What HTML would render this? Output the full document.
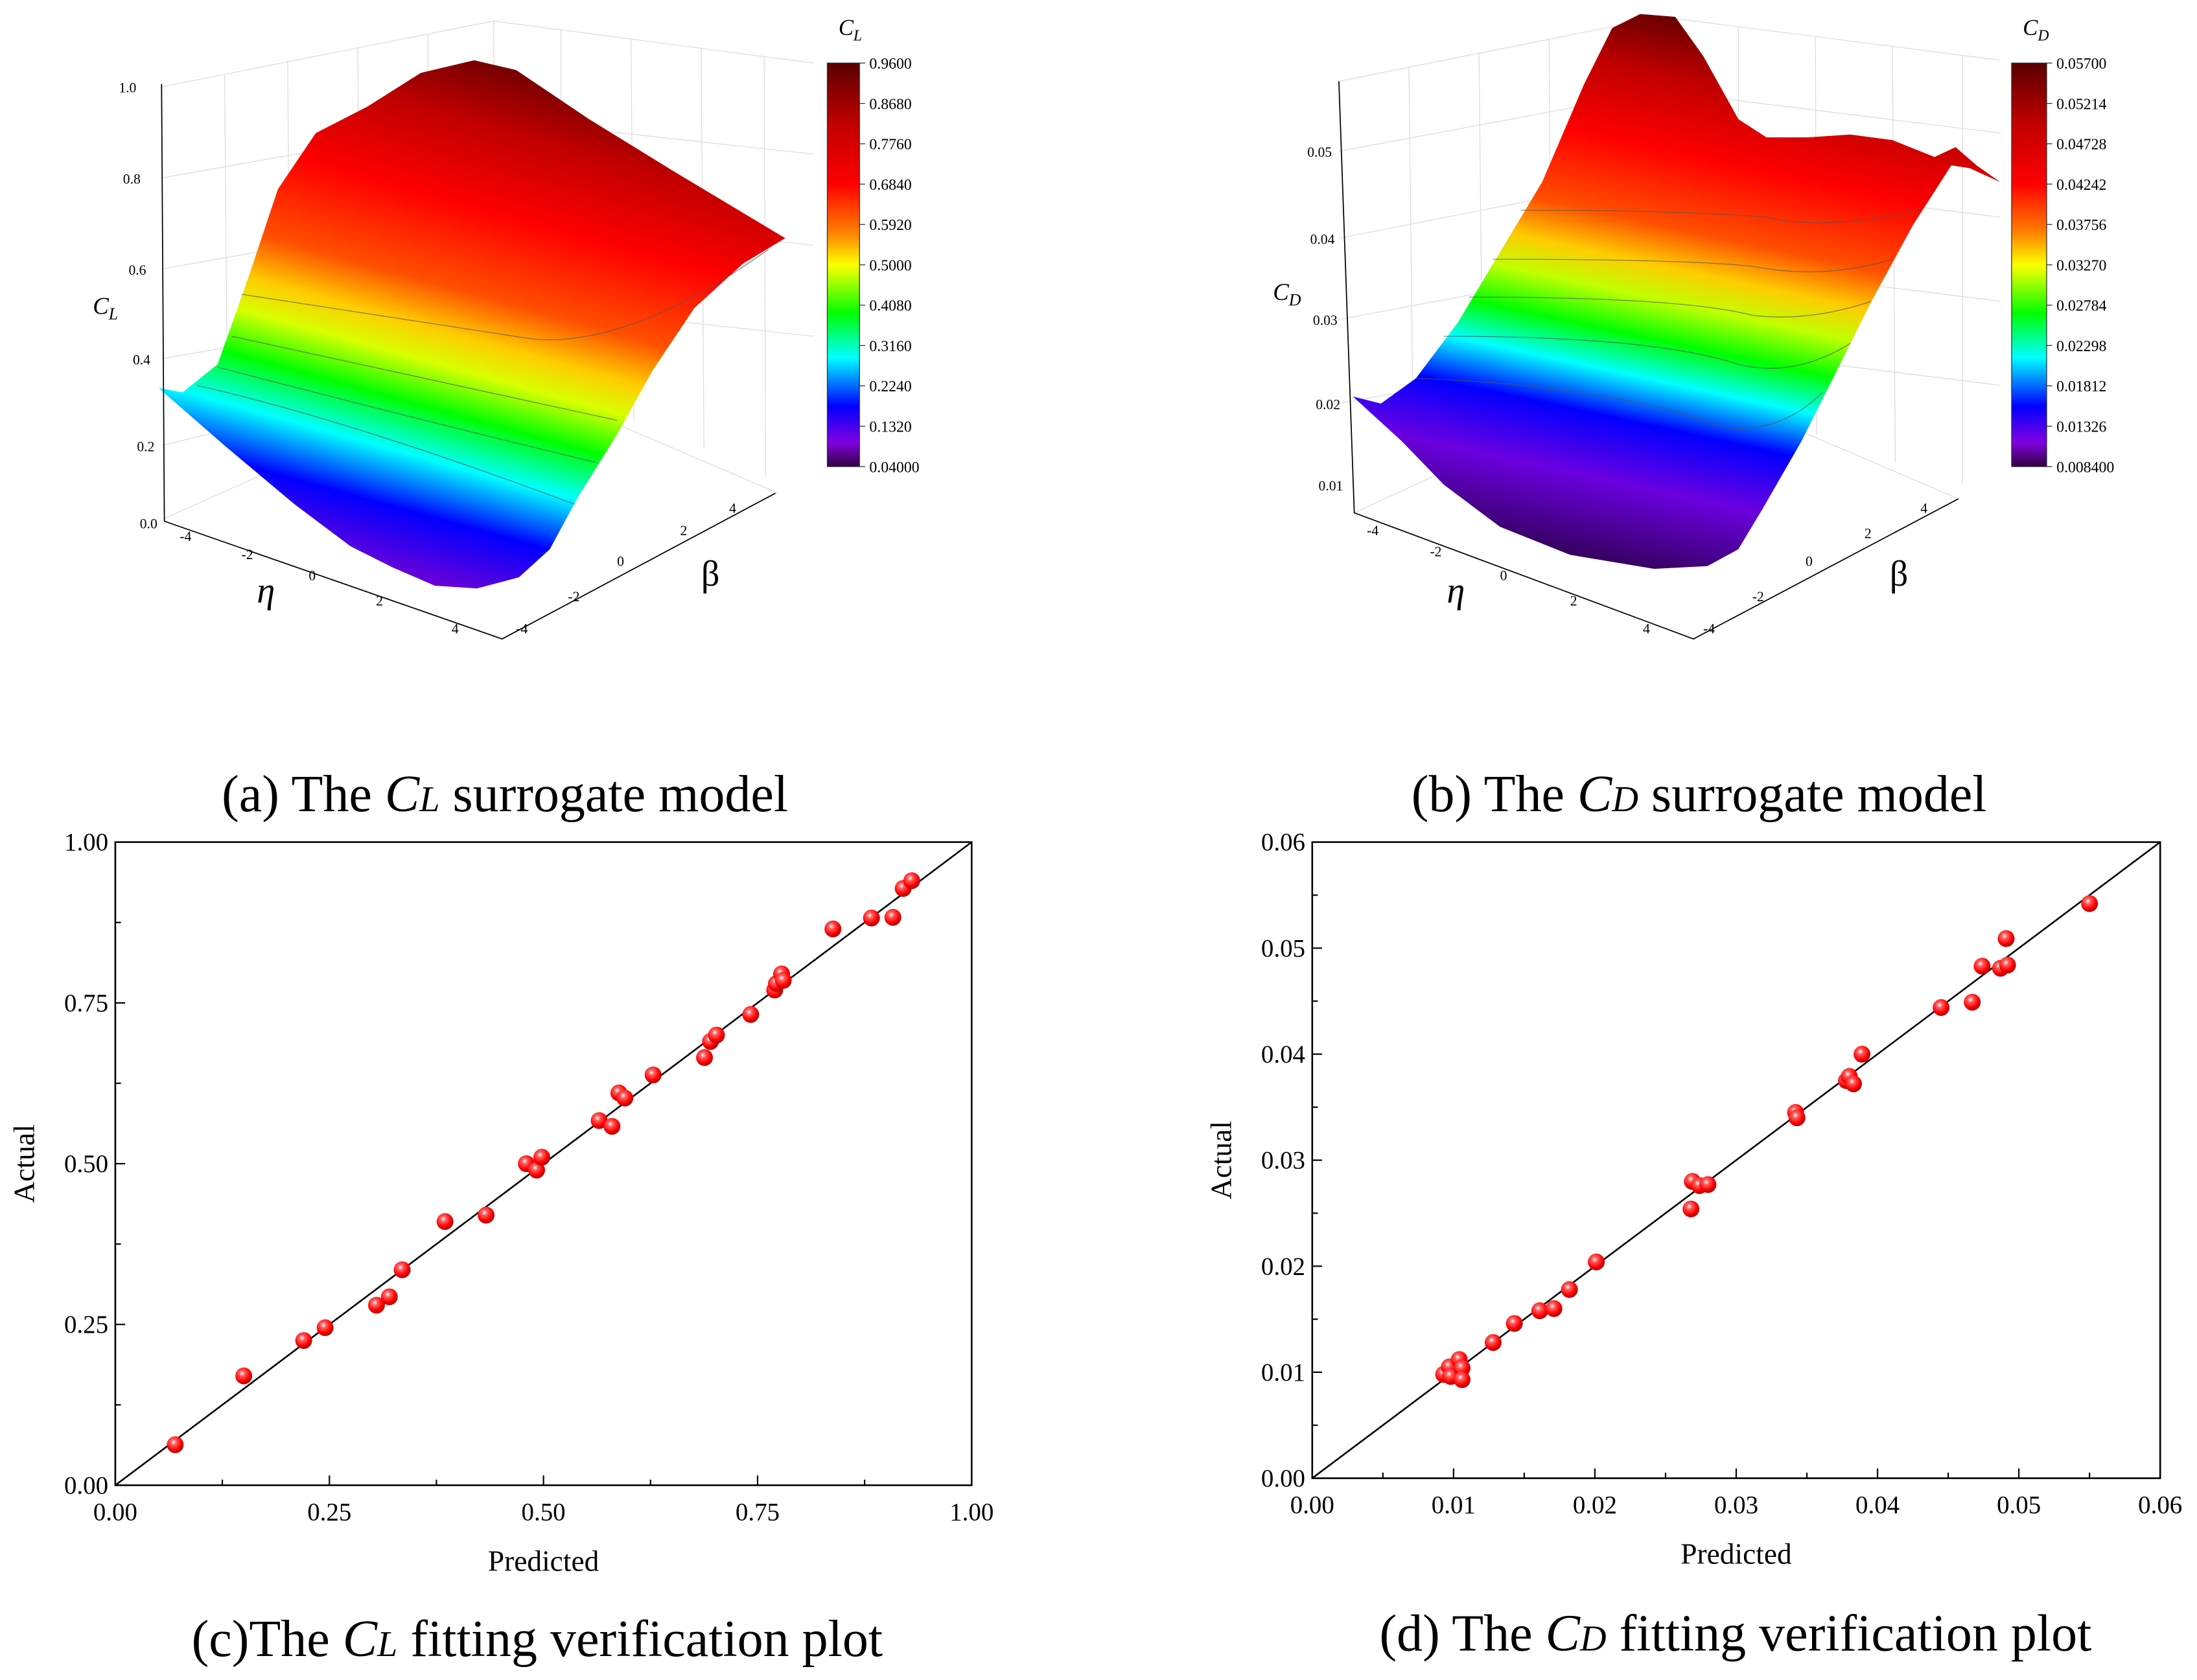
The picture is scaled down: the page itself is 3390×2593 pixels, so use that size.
<!DOCTYPE html>
<html><head><meta charset="utf-8">
<style>
html,body{margin:0;padding:0;background:#fff;}
svg{display:block;font-family:"Liberation Serif",serif;}
</style></head>
<body>
<svg id="root" width="3390" height="2593" viewBox="0 0 1567 1199" xmlns="http://www.w3.org/2000/svg">
<defs>
  <linearGradient id="cbar" x1="0" y1="0" x2="0" y2="1">
    <stop offset="0" stop-color="#5a0000"/><stop offset="0.15" stop-color="#c00000"/>
    <stop offset="0.3" stop-color="#ff0000"/><stop offset="0.42" stop-color="#ff8000"/>
    <stop offset="0.5" stop-color="#ffff00"/><stop offset="0.62" stop-color="#00ff00"/>
    <stop offset="0.73" stop-color="#00ffff"/><stop offset="0.85" stop-color="#0000ff"/>
    <stop offset="0.94" stop-color="#8000e0"/><stop offset="1" stop-color="#300040"/>
  </linearGradient>
  <linearGradient id="surfA" gradientUnits="userSpaceOnUse" x1="390" y1="40" x2="285" y2="420">
    <stop offset="0" stop-color="#5a0000"/><stop offset="0.15" stop-color="#c00000"/>
    <stop offset="0.3" stop-color="#ff0000"/><stop offset="0.45" stop-color="#ff5000"/>
    <stop offset="0.53" stop-color="#ffcc00"/><stop offset="0.59" stop-color="#d8ff00"/>
    <stop offset="0.67" stop-color="#00ff00"/><stop offset="0.76" stop-color="#00ffff"/>
    <stop offset="0.86" stop-color="#0000ff"/><stop offset="1" stop-color="#8000d0"/>
  </linearGradient>
  <linearGradient id="surfB" gradientUnits="userSpaceOnUse" x1="1215" y1="10" x2="1130" y2="405">
    <stop offset="0" stop-color="#5a0000"/><stop offset="0.12" stop-color="#c00000"/>
    <stop offset="0.25" stop-color="#ff0000"/><stop offset="0.38" stop-color="#ff5000"/>
    <stop offset="0.45" stop-color="#ffcc00"/><stop offset="0.51" stop-color="#c0ff00"/>
    <stop offset="0.58" stop-color="#00ff00"/><stop offset="0.65" stop-color="#00ffff"/>
    <stop offset="0.73" stop-color="#0000ff"/><stop offset="0.84" stop-color="#6a00e0"/>
    <stop offset="1" stop-color="#300050"/>
  </linearGradient>
  <radialGradient id="ball" cx="0.4" cy="0.35" r="0.65">
    <stop offset="0" stop-color="#ffffff"/><stop offset="0.25" stop-color="#ff6060"/>
    <stop offset="0.7" stop-color="#ff0000"/><stop offset="1" stop-color="#b00000"/>
  </radialGradient>
</defs>

<!-- Panel A -->
<g stroke="#ddd" stroke-width="0.6" fill="none">
  <path d="M115,62 L352,15 L580,45 M352,15 L352,265 M115,127 L352,85 M115,192 L352,150 M115,256 L352,215 M115,318 L352,260 M352,85 L580,110 M352,150 L580,175 M352,215 L580,240"/>
  <path d="M160,53 L162,300 M205,44 L207,320 M255,34 L257,340 M305,24 L306,260 M400,21 L400,290 M450,28 L452,300 M500,34 L502,320 M545,40 L546,340 M117,370 L352,265 L555,352"/>
</g>
<path fill="url(#surfA)" d="M113,277 L130,280 L155,260 L178,195 L198,135 L225,95 L262,76 L300,52 L338,43 L368,50 L420,85 L480,122 L530,152 L560,170 L530,188 L495,220 L465,265 L440,310 L412,355 L392,392 L370,412 L340,420 L310,418 L280,405 L250,390 L210,360 L160,318 Z"/>
<g stroke="#555" stroke-width="0.6" fill="none" opacity="0.7">
  <path d="M172,210 Q300,230 380,242 Q450,248 548,178"/>
  <path d="M165,240 Q300,270 440,300"/>
  <path d="M155,262 Q300,300 425,330"/>
  <path d="M140,275 Q250,300 410,360"/>
</g>
<g stroke="#000" stroke-width="0.8" fill="none">
  <path d="M115,60 L117,372 L358,456 L553,352"/>
</g>
<g font-size="10" fill="#000">
  <text x="97" y="66" text-anchor="end">1.0</text><text x="100" y="131" text-anchor="end">0.8</text>
  <text x="104" y="196" text-anchor="end">0.6</text><text x="107" y="260" text-anchor="end">0.4</text>
  <text x="110" y="322" text-anchor="end">0.2</text><text x="112" y="377" text-anchor="end">0.0</text>
  <text x="128" y="386">-4</text><text x="172" y="399">-2</text><text x="220" y="414">0</text><text x="268" y="432">2</text><text x="322" y="452">4</text>
  <text x="368" y="452">-4</text><text x="405" y="429">-2</text><text x="440" y="404">0</text><text x="485" y="382">2</text><text x="520" y="366">4</text>
</g>
<text x="183" y="430" font-size="26" font-style="italic">η</text>
<text x="500" y="418" font-size="26">β</text>
<text x="66" y="224" font-size="17" font-style="italic">C<tspan font-size="12" dy="4">L</tspan></text>
<g>
  <rect x="590" y="45" width="23" height="288" fill="url(#cbar)" stroke="#333" stroke-width="0.6"/>
  <text x="598" y="25" font-size="16" font-style="italic">C<tspan font-size="11" dy="4">L</tspan></text>
  <g font-size="11" id="cbA"></g>
</g>

<!-- Panel B -->
<g stroke="#ddd" stroke-width="0.6" fill="none">
  <path d="M955,58 L1185,12 L1427,43 M1185,12 L1185,265 M955,108 L1185,65 M955,170 L1185,125 M955,228 L1185,185 M955,288 L1185,245 M1185,65 L1427,95 M1185,125 L1427,155 M1185,185 L1427,215 M1185,245 L1427,275"/>
  <path d="M1005,48 L1008,310 M1055,38 L1058,330 M1105,28 L1107,345 M1240,19 L1240,290 M1295,26 L1296,310 M1350,33 L1352,330 M1400,40 L1400,345 M966,366 L1185,265 L1397,356"/>
</g>
<path fill="url(#surfB)" d="M965,283 L985,288 L1010,270 L1040,230 L1070,180 L1100,130 L1130,60 L1150,20 L1170,10 L1195,12 L1215,40 L1240,85 L1260,98 L1290,98 L1320,96 L1350,100 L1380,112 L1395,105 L1410,118 L1427,130 L1405,120 L1392,118 L1365,160 L1335,215 L1310,265 L1285,315 L1258,362 L1240,392 L1218,404 L1180,406 L1120,396 L1070,376 L1030,346 L1000,315 Z"/>
<g stroke="#555" stroke-width="0.6" fill="none" opacity="0.7">
  <path d="M1085,150 Q1200,150 1260,155 Q1300,165 1370,150"/>
  <path d="M1065,185 Q1200,185 1250,190 Q1300,200 1350,185"/>
  <path d="M1048,212 Q1200,212 1250,225 Q1290,230 1335,215"/>
  <path d="M1030,240 Q1180,240 1240,260 Q1280,270 1320,245"/>
  <path d="M1010,270 Q1150,275 1230,305 Q1270,310 1300,280"/>
</g>
<g stroke="#000" stroke-width="0.8" fill="none">
  <path d="M955,58 L966,366 L1208,456 L1397,356"/>
</g>
<g font-size="10" fill="#000">
  <text x="950" y="112" text-anchor="end">0.05</text><text x="952" y="174" text-anchor="end">0.04</text>
  <text x="954" y="232" text-anchor="end">0.03</text><text x="956" y="292" text-anchor="end">0.02</text>
  <text x="958" y="350" text-anchor="end">0.01</text>
  <text x="975" y="382">-4</text><text x="1020" y="397">-2</text><text x="1070" y="414">0</text><text x="1120" y="432">2</text><text x="1172" y="452">4</text>
  <text x="1215" y="452">-4</text><text x="1250" y="429">-2</text><text x="1288" y="404">0</text><text x="1330" y="384">2</text><text x="1370" y="366">4</text>
</g>
<text x="1032" y="430" font-size="26" font-style="italic">η</text>
<text x="1348" y="418" font-size="26">β</text>
<text x="908" y="214" font-size="17" font-style="italic">C<tspan font-size="12" dy="4">D</tspan></text>
<g>
  <rect x="1435" y="45" width="25" height="288" fill="url(#cbar)" stroke="#333" stroke-width="0.6"/>
  <text x="1443" y="25" font-size="16" font-style="italic">C<tspan font-size="11" dy="4">D</tspan></text>
  <g font-size="11" id="cbB"></g>
</g>

<text x="360" y="579" font-size="37" text-anchor="middle">(a) The <tspan font-style="italic">C<tspan font-size="26">L</tspan></tspan> surrogate model</text>
<text x="1212" y="579" font-size="37" text-anchor="middle">(b) The <tspan font-style="italic">C<tspan font-size="26">D</tspan></tspan> surrogate model</text>

<g id="plotC"></g>
<g id="plotD"></g>

<text x="383" y="1182" font-size="37" text-anchor="middle">(c)The <tspan font-style="italic">C<tspan font-size="26">L</tspan></tspan> fitting verification plot</text>
<text x="1238" y="1178" font-size="37" text-anchor="middle">(d) The <tspan font-style="italic">C<tspan font-size="26">D</tspan></tspan> fitting verification plot</text>
</svg>
<script>
const cbLabelsA = ["0.9600","0.8680","0.7760","0.6840","0.5920","0.5000","0.4080","0.3160","0.2240","0.1320","0.04000"];
const cbLabelsB = ["0.05700","0.05214","0.04728","0.04242","0.03756","0.03270","0.02784","0.02298","0.01812","0.01326","0.008400"];

const clPredicted = [0.07,0.15,0.22,0.245,0.305,0.32,0.335,0.385,0.433,0.48,0.492,0.498,0.565,0.58,0.588,0.595,0.628,0.688,0.695,0.702,0.742,0.77,0.772,0.778,0.78,0.838,0.883,0.908,0.92,0.93];
const clActual    = [0.063,0.17,0.225,0.245,0.28,0.293,0.335,0.41,0.42,0.5,0.49,0.51,0.567,0.558,0.61,0.602,0.638,0.665,0.69,0.7,0.732,0.77,0.78,0.795,0.785,0.865,0.882,0.883,0.928,0.94];
const clTicks = ["0.00","0.25","0.50","0.75","1.00"];

const cdPredicted = [0.0093,0.0097,0.0098,0.0104,0.0106,0.0106,0.0128,0.0143,0.0161,0.0171,0.0182,0.0201,0.0268,0.0269,0.0274,0.028,0.0342,0.0343,0.0378,0.038,0.0383,0.0389,0.0445,0.0467,0.0474,0.0487,0.0491,0.0492,0.055];
const cdActual    = [0.0098,0.0105,0.0096,0.0112,0.0104,0.0093,0.0128,0.0146,0.0158,0.016,0.0178,0.0204,0.0254,0.028,0.0276,0.0277,0.0345,0.034,0.0375,0.0379,0.0372,0.04,0.0444,0.0449,0.0483,0.0481,0.0509,0.0484,0.0542];
const cdTicks = ["0.00","0.01","0.02","0.03","0.04","0.05","0.06"];

const NS = "http://www.w3.org/2000/svg";
function mk(tag, attrs, parent){ const e=document.createElementNS(NS,tag); for(const k in attrs) e.setAttribute(k,attrs[k]); parent.appendChild(e); return e; }

function colorbarLabels(id, labels, x, y0, y1){
  const g=document.getElementById(id);
  labels.forEach((t,i)=>{
    const y=y0+(y1-y0)*i/(labels.length-1);
    const tk=mk('line',{x1:x-6,x2:x-2,y1:y,y2:y,stroke:'#333','stroke-width':0.6},g);
    
    
    const tx=mk('text',{x:x+1,y:y+4},g);
    tx.textContent=t;
    
    
  });
}
colorbarLabels('cbA', cbLabelsA, 619, 45, 333);
colorbarLabels('cbB', cbLabelsB, 1466, 45, 333);

function scatter(id, L, R, T, B, max, ticks, px, py, tickDy){
  const g=document.getElementById(id);
  const sx=v=>L+(R-L)*v/max, sy=v=>B-(B-T)*v/max;
  const frame=mk('rect',{x:L,y:T,width:R-L,height:B-T,fill:'none',stroke:'#000','stroke-width':1.2},g);
  
  
  const n=ticks.length-1;
  for(let i=0;i<=2*n;i++){
    const v=max*i/(2*n), major=i%2===0, len=major?7:4;
    const xt=mk('line',{x1:sx(v),x2:sx(v),y1:B,y2:B-len,stroke:'#000','stroke-width':1},g);
    
    
    const yt=mk('line',{x1:L,x2:L+len,y1:sy(v),y2:sy(v),stroke:'#000','stroke-width':1},g);
    
    
    if(major){
      const lab=ticks[i/2];
      const xl=mk('text',{x:sx(v),y:B+tickDy,'font-size':18,'text-anchor':'middle'},g);
      xl.textContent=lab;
      
      
      const yl=mk('text',{x:L-5,y:sy(v)+6,'font-size':18,'text-anchor':'end'},g);
      yl.textContent=lab;
      
      
    }
  }
  const diag=mk('line',{x1:sx(0),y1:sy(0),x2:sx(max),y2:sy(max),stroke:'#000','stroke-width':1.2},g);
  
  
  px.forEach((p,i)=>{
    const c=mk('circle',{cx:sx(p),cy:sy(py[i]),r:6,fill:'url(#ball)'},g);
    
    
  });
  const xtit=mk('text',{x:(L+R)/2,y:B+tickDy+36,'font-size':21,'text-anchor':'middle'},g);
  xtit.textContent='Predicted';
  
  
  const yx=L-58, yy=(T+B)/2;
  const ytit=mk('text',{x:yx,y:yy,'font-size':21,'text-anchor':'middle',transform:`rotate(-90 ${yx} ${yy})`},g);
  ytit.textContent='Actual';
  
  
}
scatter('plotC', 82, 693, 601, 1060, 1.0, clTicks, clPredicted, clActual, 25);
scatter('plotD', 936, 1541, 601, 1055, 0.06, cdTicks, cdPredicted, cdActual, 25);
</script>
</body></html>
